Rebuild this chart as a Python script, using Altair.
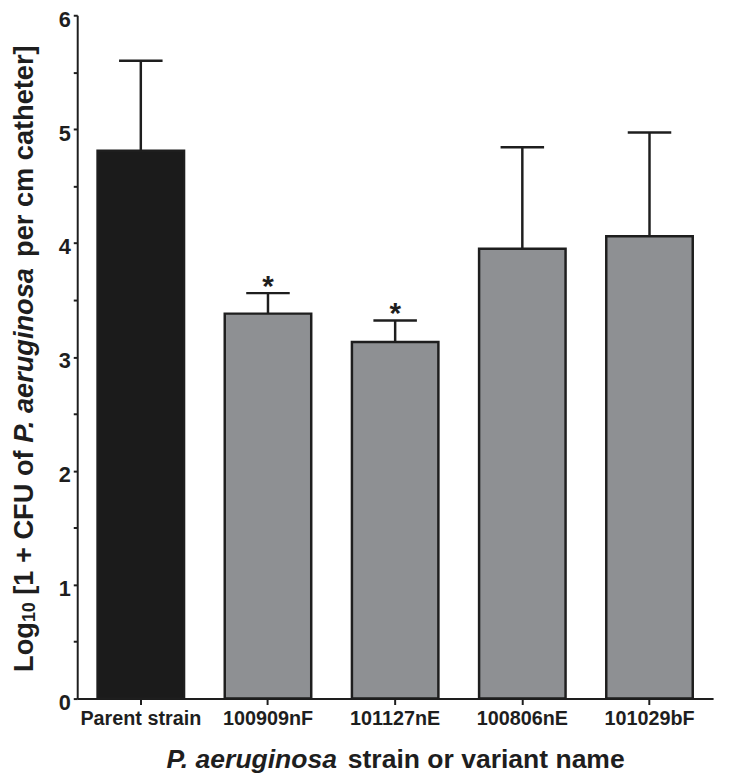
import altair as alt
import pandas as pd

# ---- data ----
strains = ["Parent strain", "100909nF", "101127nE", "100806nE", "101029bF"]
means = [4.81, 3.38, 3.13, 3.95, 4.06]
upper = [5.60, 3.56, 3.32, 4.84, 4.97]
sig = ["", "*", "*", "", ""]
group = ["parent", "variant", "variant", "variant", "variant"]
y_ticks = [0, 0.5, 1, 1.5, 2, 2.5, 3, 3.5, 4, 4.5, 5, 5.5, 6]

df = pd.DataFrame(dict(strain=strains, mean=means, upper=upper, sig=sig, group=group))

FONT = "Liberation Sans"
INK = "#1e1e1e"
W, H = 643, 691

# Arial / Liberation Sans Bold advance widths (per 1000 em)
AW = {" ": 278, "[": 333, "]": 333, "0": 556, "1": 556, "+": 584, ".": 278,
      "L": 611, "C": 722, "F": 611, "U": 722, "P": 667,
      "a": 556, "c": 556, "e": 556, "f": 333, "g": 611, "h": 611, "i": 278,
      "m": 889, "n": 611, "o": 611, "p": 611, "r": 389, "s": 556, "t": 333,
      "u": 611, "v": 556}


def tw(s, size):
    return sum(AW.get(ch, 556) for ch in s) * size / 1000.0


xaxis = alt.Axis(title=None, labelAngle=0, grid=False, domainColor=INK, domainWidth=2,
                 tickColor=INK, tickWidth=2, tickSize=6, labelFont=FONT,
                 labelFontWeight="bold", labelFontSize=20, labelColor=INK, labelPadding=4)
yaxis = alt.Axis(title=None, values=y_ticks, grid=False,
                 labelExpr="datum.value % 1 === 0 ? format(datum.value, 'd') : ''",
                 domainColor=INK, domainWidth=2, tickColor=INK, tickWidth=2, tickSize=4,
                 labelFont=FONT, labelFontWeight="bold", labelFontSize=22, labelColor=INK,
                 labelPadding=3, labelOverlap=False, labelFlush=False, labelOffset=4)

xs = alt.Scale(paddingInner=0.32, paddingOuter=0.16)
ys = alt.Scale(domain=[0, 6], nice=False)

X = alt.X("strain:N", sort=strains, scale=xs, axis=xaxis)

base = alt.Chart(df)

bars = base.mark_bar(stroke=INK, strokeWidth=2.5).encode(
    x=X,
    y=alt.Y("mean:Q", scale=ys, axis=yaxis),
    color=alt.Color("group:N", scale=alt.Scale(domain=["parent", "variant"],
                                               range=["#1b1b1b", "#8e9093"]), legend=None),
)
rules = base.mark_rule(color=INK, strokeWidth=2.5).encode(
    x=X, y=alt.Y("mean:Q", scale=ys, axis=yaxis), y2="upper:Q")
caps = base.mark_tick(color=INK, thickness=2.5, size=44, opacity=1).encode(
    x=X, y=alt.Y("upper:Q", scale=ys, axis=yaxis))
stars = base.mark_text(font=FONT, fontSize=30, fontWeight="bold", color=INK,
                       baseline="alphabetic", dy=3).encode(
    x=X, y=alt.Y("upper:Q", scale=ys, axis=yaxis), text="sig:N")

layers = [bars, rules, caps, stars]


def label(txt, x, y, size, italic=False, angle=0, align="left"):
    kw = dict(font=FONT, fontSize=size, fontWeight="bold", color=INK,
              baseline="alphabetic", align=align, text=txt)
    if italic:
        kw["fontStyle"] = "italic"
    if angle:
        kw["angle"] = angle
    return alt.Chart(pd.DataFrame({"k": [0]})).mark_text(**kw).encode(
        x=alt.value(x), y=alt.value(y))


# ---- y title: Log10 [1 + CFU of P. aeruginosa per cm catheter] (rotated) ----
YS, SUB = 27.5, 18
yb_x = -45
pos = 664.0
layers.append(label("Log", yb_x, pos, YS, angle=270))
pos -= tw("Log", YS)
layers.append(label("10", yb_x + 2, pos, SUB, angle=270))
pos -= tw("10", SUB) + tw(" ", YS)
layers.append(label("[1 + CFU of", yb_x, pos, YS, angle=270))
pos -= tw("[1 + CFU of ", YS)
layers.append(label("P. aeruginosa", yb_x, pos, YS, italic=True, angle=270))
pos -= tw("P. aeruginosa ", YS)
layers.append(label("per cm catheter]", yb_x, pos, YS, angle=270))

# ---- x title: P. aeruginosa strain or variant name ----
XS = 26.8
total = tw("P. aeruginosa strain or variant name", XS)
start = 322 - total / 2
layers.append(label("P. aeruginosa", start, 761, XS, italic=True))
layers.append(label("strain or variant name", start + tw("P. aeruginosa ", XS), 761, XS))

chart = alt.layer(*layers).properties(
    width=W, height=H,
    autosize=alt.AutoSizeParams(type="none"),
    padding={"left": 70, "top": 3, "right": 8, "bottom": 78},
    background="white",
).configure_view(stroke=None)

chart.save("out.html", embed_options={"renderer": "svg", "actions": False})
